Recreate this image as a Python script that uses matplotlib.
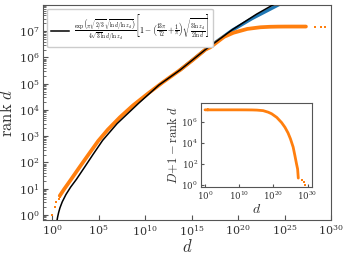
import numpy as np
import matplotlib
matplotlib.use("Agg")
import matplotlib.pyplot as plt

plt.rcParams['mathtext.fontset'] = 'cm'
plt.rcParams['font.family'] = 'serif'
plt.rcParams['font.serif'] = ['DejaVu Serif']

# total number of values D
D = 1.5e7

# first few values (exact small ranks)
d_first = [1, 2, 3, 5, 7]
rank_first = [1, 2, 3, 4, 5]

# bulk of the ranking, read as log10 values
logd_body = [0.83, 1.3, 2.0, 3.0, 4.0, 4.97, 6.0, 7.3, 8.7, 10.3, 11.9, 13.8, 15.2, 16.5]
logrank_body = [0.73, 0.98, 1.33, 1.84, 2.34, 2.82, 3.25, 3.72, 4.17, 4.62, 5.05, 5.53, 5.92, 6.3]

# tail, given as D+1-rank (log10)
logd_tail = [17.0, 18.5, 19.5, 21.0, 22.4, 23.4, 24.3, 25.0, 25.8, 26.3, 26.8, 27.1, 27.3]
logcount_tail = [7.1, 6.95, 6.8, 6.45, 5.96, 5.5, 4.96, 4.4, 3.6, 2.8, 1.96, 1.5, 0.63]

# last few largest values
logd_last = [28.3, 28.9, 29.4]
count_last = [3, 2, 1]

# asymptotic formula curve (black) and extended series (blue)
logd_fit = [0.54, 0.6, 0.7, 0.85, 1.1, 1.5, 2.0, 2.63, 3.5, 4.4, 5.44, 7.0, 9.3, 11.5,
            13.8, 16.5, 19.4, 22.0, 24.5]
logrank_fit = [-0.2, -0.08, 0.08, 0.27, 0.5, 0.78, 1.06, 1.36, 1.82, 2.3, 2.84, 3.48, 4.25,
               4.95, 5.53, 6.3, 7.06, 7.65, 8.15]
logd_blue = [13.8, 16.5, 19.4, 21.5, 24.6]
logrank_blue = [5.53, 6.3, 7.04, 7.48, 8.05]

d_body = 10 ** np.array(logd_body)
rank_body = 10 ** np.array(logrank_body)
d_tail = 10 ** np.array(logd_tail)
rank_tail = D + 1 - 10 ** np.array(logcount_tail)
d_last = 10 ** np.array(logd_last)
rank_last = D + 1 - np.array(count_last)

orange = '#ff7f0e'
blue = '#1f77b4'
spine_c = '#555555'
text_c = '#333333'

fig = plt.figure(figsize=(3.47, 2.59), dpi=100)
ax = fig.add_axes([0.124, 0.151, 0.830, 0.830])

ax.plot(10 ** np.array(logd_blue), 10 ** np.array(logrank_blue), color=blue, lw=2.4, zorder=1)
ax.plot(np.concatenate([d_body, d_tail]), np.concatenate([rank_body, rank_tail]),
        color=orange, lw=2.7, solid_capstyle='round', zorder=2)
ax.plot(d_first, rank_first, 's', color=orange, ms=2, mew=0, zorder=2)
ax.plot(d_last, rank_last, 's', color=orange, ms=2, mew=0, zorder=2)
formula = (r'$\frac{\exp\left(\pi\sqrt{2/3}\sqrt{\ln d/\ln z_d}\right)}{4\sqrt{3}\ln d/\ln z_d}'
           r'\left[1-\left(\frac{13\pi}{72}+\frac{1}{\pi}\right)\sqrt{\frac{3\ln z_d}{2\ln d}}\right]$')
ax.plot(10 ** np.array(logd_fit), 10 ** np.array(logrank_fit), color='black', lw=1.1,
        zorder=3, label=formula)

ax.set_xscale('log')
ax.set_yscale('log')
ax.set_xlim(10 ** -0.97, 1e30)
ax.set_ylim(10 ** -0.19, 1e8)
ax.set_xticks([10.0 ** k for k in range(0, 31, 5)])
ax.xaxis.set_minor_locator(matplotlib.ticker.NullLocator())
ax.set_yticks([10.0 ** k for k in range(0, 8)])
ax.yaxis.set_minor_locator(matplotlib.ticker.LogLocator(base=10, subs=np.arange(2, 10), numticks=20))
ax.yaxis.set_minor_formatter(matplotlib.ticker.NullFormatter())
ax.tick_params(which='both', direction='in', labelsize=8, colors=spine_c, labelcolor=text_c, pad=2.5)
ax.tick_params(which='major', length=3.5)
ax.tick_params(which='minor', length=2)
for s in ax.spines.values():
    s.set_color(spine_c)
ax.set_xlabel(r'$d$', fontsize=12, color=text_c, labelpad=1)
ax.set_ylabel(r'$\mathrm{rank}\ d$', fontsize=12, color=text_c, labelpad=2)
leg = ax.legend(loc='upper left', fontsize=5.7, handlelength=2.3, borderpad=0.45,
                handletextpad=0.6, framealpha=1)
leg.get_frame().set_edgecolor('#cccccc')

# inset: D+1-rank d
ins = fig.add_axes([0.578, 0.279, 0.322, 0.322])
ins.plot(np.concatenate([d_first, d_body, d_tail]),
         np.concatenate([D + 1 - np.array(rank_first), D + 1 - rank_body,
                         10 ** np.array(logcount_tail)]),
         color=orange, lw=2.0, solid_capstyle='round')
ins.plot(d_last, count_last, 's', color=orange, ms=1.6, mew=0)
ins.set_xscale('log')
ins.set_yscale('log')
ins.set_xlim(10 ** -1.3, 10 ** 31.4)
ins.set_ylim(10 ** -0.2, 10 ** 7.8)
ins.set_xticks([1e0, 1e10, 1e20, 1e30])
ins.xaxis.set_minor_locator(matplotlib.ticker.NullLocator())
ins.set_yticks([1e0, 1e2, 1e4, 1e6])
ins.yaxis.set_minor_locator(matplotlib.ticker.NullLocator())
ins.tick_params(which='both', direction='in', labelsize=6.2, length=2.5, colors=spine_c,
                labelcolor=text_c, pad=2)
for s in ins.spines.values():
    s.set_color(spine_c)
ins.set_xlabel(r'$d$', fontsize=10, color=text_c, labelpad=0)
ins.set_ylabel(r'$D\!+\!1-\mathrm{rank}\ d$', fontsize=9, color=text_c, labelpad=1)

fig.savefig('out.png', dpi=100)
